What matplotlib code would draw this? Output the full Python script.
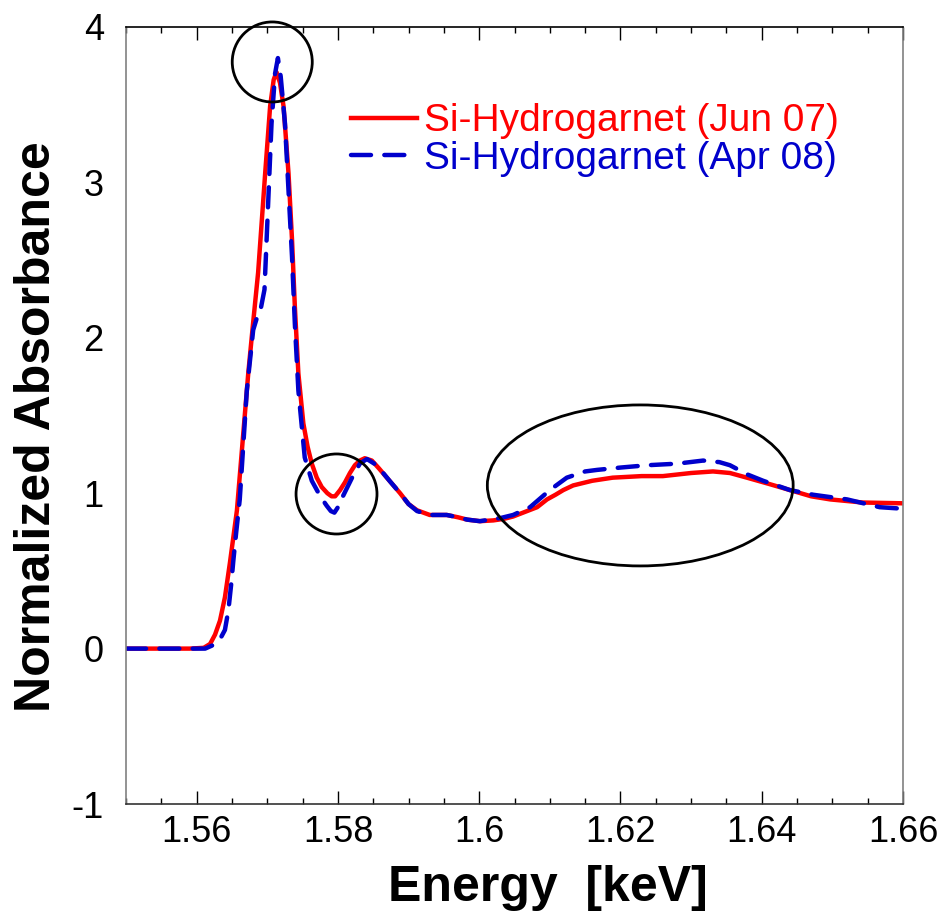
import numpy as np
import matplotlib.pyplot as plt
from matplotlib.patches import Ellipse

plt.rcParams['font.family'] = ['Liberation Sans', 'DejaVu Sans']
plt.rcParams['axes.unicode_minus'] = False

# Si-Hydrogarnet (Jun 07)
energia_jun = [1.550, 1.555, 1.559, 1.5610, 1.5619, 1.5626, 1.5633, 1.5640, 1.5647, 1.5657,
               1.5665, 1.5673, 1.5680, 1.5687, 1.5697, 1.5704, 1.5709, 1.5713, 1.5718, 1.5723,
               1.5730, 1.5735, 1.5739, 1.5744, 1.5751, 1.5757, 1.5763, 1.5770, 1.5777, 1.5785,
               1.5791, 1.5796, 1.5803, 1.5810, 1.5817, 1.5824, 1.5831, 1.5838, 1.5848, 1.5858,
               1.5873, 1.5888, 1.5900, 1.5912, 1.5930, 1.5954, 1.5970, 1.5983, 1.6001, 1.6020,
               1.6035, 1.6048, 1.6065, 1.6082, 1.6096, 1.6108, 1.6119, 1.6133, 1.6160, 1.6189,
               1.6230, 1.6260, 1.6300, 1.6331, 1.6355, 1.6379, 1.6410, 1.6440, 1.6470, 1.6497,
               1.6543, 1.6600]
abs_jun = [0.0, 0.0, 0.0, 0.005, 0.03, 0.09, 0.18, 0.33, 0.55, 0.89,
           1.33, 1.77, 2.10, 2.42, 3.06, 3.49, 3.66, 3.71, 3.64, 3.49,
           3.06, 2.63, 2.20, 1.77, 1.45, 1.30, 1.19, 1.10, 1.04, 1.00,
           0.98, 0.98, 1.02, 1.07, 1.13, 1.18, 1.21, 1.225, 1.21, 1.16,
           1.08, 1.00, 0.93, 0.89, 0.86, 0.86, 0.845, 0.83, 0.82, 0.825,
           0.835, 0.85, 0.88, 0.91, 0.96, 0.99, 1.02, 1.05, 1.08, 1.10,
           1.11, 1.11, 1.13, 1.14, 1.13, 1.10, 1.06, 1.02, 0.98, 0.96,
           0.94, 0.935]

# Si-Hydrogarnet (Apr 08)
energia_apr = [1.550, 1.555, 1.559, 1.5612, 1.5622, 1.5633, 1.5640, 1.5645, 1.5649, 1.5652,
               1.5656, 1.5661, 1.5671, 1.5680, 1.5686, 1.5690, 1.5696, 1.5699, 1.5703, 1.5706,
               1.5711, 1.5715, 1.5719, 1.5725, 1.5730, 1.5735, 1.5739, 1.5744, 1.5753, 1.5763,
               1.5775, 1.5784, 1.5790, 1.5795, 1.5800, 1.5807, 1.5820, 1.5831, 1.5841, 1.5855,
               1.5873, 1.5888, 1.5900, 1.5912, 1.5930, 1.5954, 1.5970, 1.5983, 1.6001, 1.6015,
               1.6030, 1.6048, 1.6072, 1.6100, 1.6124, 1.6150, 1.6167, 1.6200, 1.6238, 1.6280,
               1.6317, 1.6340, 1.6355, 1.6380, 1.6402, 1.6440, 1.6473, 1.6521, 1.6567, 1.6600]
abs_apr = [0.0, 0.0, 0.0, 0.0, 0.02, 0.06, 0.12, 0.25, 0.42, 0.57,
           0.75, 0.96, 1.66, 2.05, 2.14, 2.17, 2.31, 2.63, 3.06, 3.38,
           3.70, 3.80, 3.68, 3.38, 2.95, 2.52, 2.09, 1.66, 1.23, 1.08,
           0.98, 0.92, 0.885, 0.875, 0.91, 0.98, 1.10, 1.19, 1.22, 1.18,
           1.08, 1.00, 0.93, 0.885, 0.86, 0.86, 0.845, 0.83, 0.82, 0.83,
           0.84, 0.86, 0.91, 1.02, 1.10, 1.14, 1.15, 1.165, 1.18, 1.19,
           1.21, 1.20, 1.18, 1.12, 1.08, 1.02, 0.99, 0.96, 0.91, 0.90]

# Círculos de resalte: centro (x, y), ancho, alto
circulos = [((1.5707, 3.775), 0.01133, 0.515),
            ((1.5798, 0.995), 0.01146, 0.515),
            ((1.6228, 1.05), 0.0433, 1.036)]

fig = plt.figure(figsize=(9.42, 9.15), dpi=100)
ax = fig.add_axes([0.1338, 0.1213, 0.8248, 0.8492])

ax.plot(energia_jun, abs_jun, color='#ff0000', lw=3.2, label='Si-Hydrogarnet (Jun 07)')
ax.plot(energia_apr, abs_apr, color='#0000cc', lw=3.2, linestyle=(0, (4.5, 3)),
        dash_capstyle='round', label='Si-Hydrogarnet (Apr 08)')

for centro, ancho, alto in circulos:
    ax.add_patch(Ellipse(centro, ancho, alto, fill=False, edgecolor='black',
                         lw=2, clip_on=False, zorder=5))

ax.set_xlim(1.55, 1.66)
ax.set_ylim(-1, 4)
ax.set_xticks([1.56, 1.58, 1.60, 1.62, 1.64, 1.66])
ax.set_xticklabels(['1.56', '1.58', '1.6', '1.62', '1.64', '1.66'])
ax.set_xticks(np.arange(1.55, 1.6601, 0.005), minor=True)
ax.set_yticks([-1, 0, 1, 2, 3, 4])
ax.tick_params(axis='x', which='both', direction='in', top=True, width=1, colors='black',
               labelsize=26, pad=8)
ax.tick_params(axis='x', which='major', length=9.5)
ax.tick_params(axis='x', which='minor', length=4.5)
ax.tick_params(axis='y', length=0, labelsize=26, pad=16)

ax.spines['left'].set_color('#808080')
ax.spines['right'].set_color('#808080')
ax.spines['top'].set_color('black')
ax.spines['bottom'].set_color('#333333')
for s in ax.spines.values():
    s.set_linewidth(1.2)

ax.set_xlabel('Energy  [keV]', fontsize=36, fontweight='bold')
ax.set_ylabel('Normalized Absorbance', fontsize=36, fontweight='bold')
ax.xaxis.set_label_coords(0.543, -0.078)
ax.yaxis.set_label_coords(-0.085, 0.486)

ax.legend(loc='upper right', bbox_to_anchor=(0.918, 0.902), frameon=False, fontsize=28,
          labelcolor='linecolor', handlelength=1.7, handletextpad=0.2,
          labelspacing=0.05, borderpad=0, borderaxespad=0)

fig.savefig('out.png', dpi=100)
